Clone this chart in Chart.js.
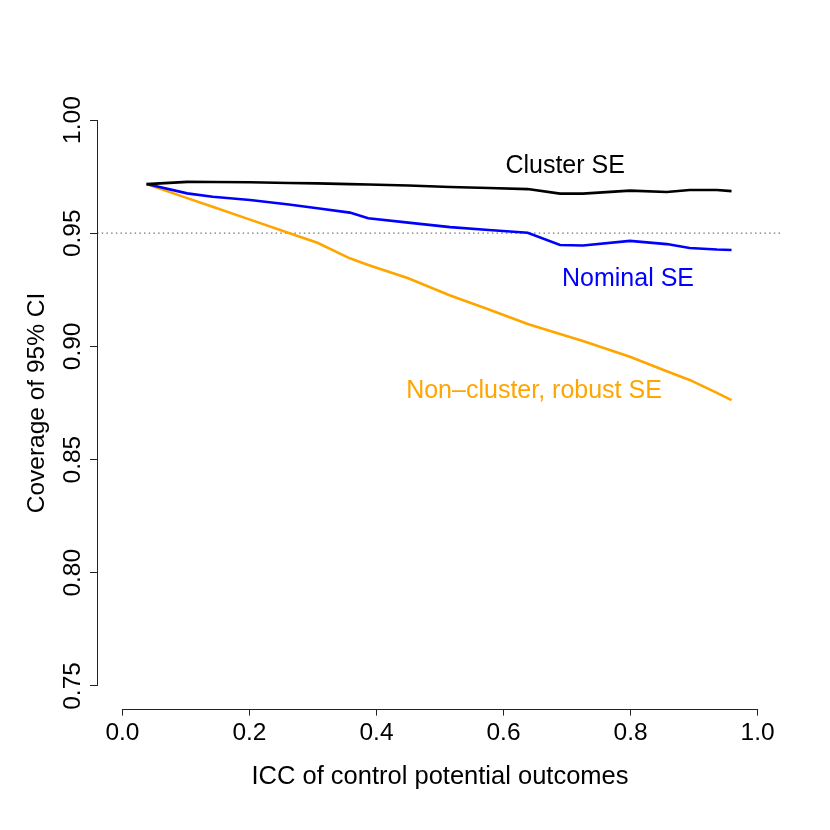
<!DOCTYPE html>
<html>
<head>
<meta charset="utf-8">
<script src="https://cdn.jsdelivr.net/npm/chart.js@4/dist/chart.umd.min.js"></script>
<style>
  html, body { margin: 0; padding: 0; background: #fff; }
  #wrap { width: 830px; height: 830px; }
</style>
</head>
<body>
<div id="wrap"><canvas id="c" width="830" height="830"></canvas></div>
<script>
// ---- data ----
const icc = [0.038, 0.102, 0.142, 0.201, 0.262, 0.307, 0.358, 0.387, 0.45, 0.516, 0.577, 0.638, 0.689, 0.725, 0.799, 0.857, 0.893, 0.936, 0.959];
const clusterSE = [0.9717, 0.9727, 0.9726, 0.9725, 0.9722, 0.9720, 0.9717, 0.9715, 0.9711, 0.9704, 0.9700, 0.9695, 0.9675, 0.9675, 0.9688, 0.9682, 0.9691, 0.9691, 0.9686];
const nominalSE = [0.9717, 0.9676, 0.9661, 0.9647, 0.9627, 0.9610, 0.9591, 0.9566, 0.9547, 0.9527, 0.9514, 0.9502, 0.9448, 0.9446, 0.9466, 0.9452, 0.9435, 0.9428, 0.9426];
const robustSE = [0.9717, 0.9655, 0.9617, 0.9560, 0.9501, 0.9458, 0.9389, 0.9360, 0.9301, 0.9225, 0.9163, 0.9099, 0.9055, 0.9024, 0.8954, 0.8890, 0.8852, 0.8795, 0.8763];
const nominalLevel = 0.95;
const xTicks = [0, 0.2, 0.4, 0.6, 0.8, 1.0];
const yTicks = [0.75, 0.80, 0.85, 0.90, 0.95, 1.00];
const seriesNames = ["Cluster SE", "Nominal SE", "Non\u2013cluster, robust SE"];
const labelAnchors = [[0.697, 0.9797], [0.796, 0.9298], [0.648, 0.8803]];

const colors = ["#000000", "#0000FF", "#FFA500"];
const FONT = '"Liberation Sans", Arial, Helvetica, sans-serif';

const pts = vals => icc.map((x, i) => ({ x: x, y: vals[i] }));

const axisLines = {
  id: 'axisLines',
  afterDraw(chart) {
    const ctx = chart.ctx, xs = chart.scales.x, ys = chart.scales.y, a = chart.chartArea;
    ctx.save();
    ctx.strokeStyle = '#222';
    ctx.lineWidth = 1;
    ctx.beginPath();
    const yb = Math.round(a.bottom) + 0.5;
    ctx.moveTo(xs.getPixelForValue(xTicks[0]), yb);
    ctx.lineTo(xs.getPixelForValue(xTicks[xTicks.length - 1]), yb);
    const xl = Math.round(a.left) + 0.5;
    ctx.moveTo(xl, ys.getPixelForValue(yTicks[0]));
    ctx.lineTo(xl, ys.getPixelForValue(yTicks[yTicks.length - 1]));
    ctx.stroke();
    // series labels
    ctx.font = '25px ' + FONT;
    ctx.textAlign = 'center';
    ctx.textBaseline = 'middle';
    seriesNames.forEach((t, i) => {
      ctx.fillStyle = colors[i];
      ctx.fillText(t, xs.getPixelForValue(labelAnchors[i][0]), ys.getPixelForValue(labelAnchors[i][1]));
    });
    ctx.restore();
  }
};

new Chart(document.getElementById('c'), {
  type: 'line',
  data: {
    datasets: [
      { label: seriesNames[0], data: pts(clusterSE), borderColor: colors[0], borderWidth: 2.6, pointRadius: 0, tension: 0, order: 1 },
      { label: seriesNames[1], data: pts(nominalSE), borderColor: colors[1], borderWidth: 2.6, pointRadius: 0, tension: 0, order: 2 },
      { label: seriesNames[2], data: pts(robustSE), borderColor: colors[2], borderWidth: 2.6, pointRadius: 0, tension: 0, order: 3 },
      { label: 'nominal', data: [{ x: -0.04, y: nominalLevel }, { x: 1.04, y: nominalLevel }], borderColor: '#777', borderWidth: 1.3, borderDash: [1.5, 3.2], pointRadius: 0, order: 4 }
    ]
  },
  options: {
    responsive: false,
    animation: false,
    layout: { padding: { top: 97.4, right: 47, left: 0, bottom: 0 } },
    plugins: { legend: { display: false }, tooltip: { enabled: false } },
    scales: {
      x: {
        type: 'linear', min: -0.04, max: 1.04,
        afterFit: s => { s.height = 121.4; },
        afterBuildTicks: s => { s.ticks = xTicks.map(v => ({ value: v })); },
        border: { display: false },
        grid: { display: true, drawOnChartArea: false, drawTicks: true, tickLength: 7, color: '#222', lineWidth: 1 },
        ticks: { autoSkip: false, maxRotation: 0, padding: 3, color: '#000', font: { family: FONT, size: 24.5 }, callback: v => Number(v).toFixed(1) },
        title: { display: true, text: 'ICC of control potential outcomes', color: '#000', font: { family: FONT, size: 25.5 }, padding: { top: 0, bottom: 38 } }
      },
      y: {
        type: 'linear', min: 0.74, max: 1.01,
        afterFit: s => { s.width = 97; },
        afterBuildTicks: s => { s.ticks = yTicks.map(v => ({ value: v })); },
        border: { display: false },
        grid: { display: true, drawOnChartArea: false, drawTicks: true, tickLength: 7, color: '#222', lineWidth: 1 },
        ticks: { autoSkip: false, minRotation: 90, maxRotation: 90, crossAlign: 'center', padding: -7, color: '#000', font: { family: FONT, size: 24.5 }, callback: v => Number(v).toFixed(2) },
        title: { display: true, text: 'Coverage of 95% CI', color: '#000', font: { family: FONT, size: 24.5 }, padding: { top: 22.4, bottom: 0 } }
      }
    }
  },
  plugins: [axisLines]
});
</script>
</body>
</html>
